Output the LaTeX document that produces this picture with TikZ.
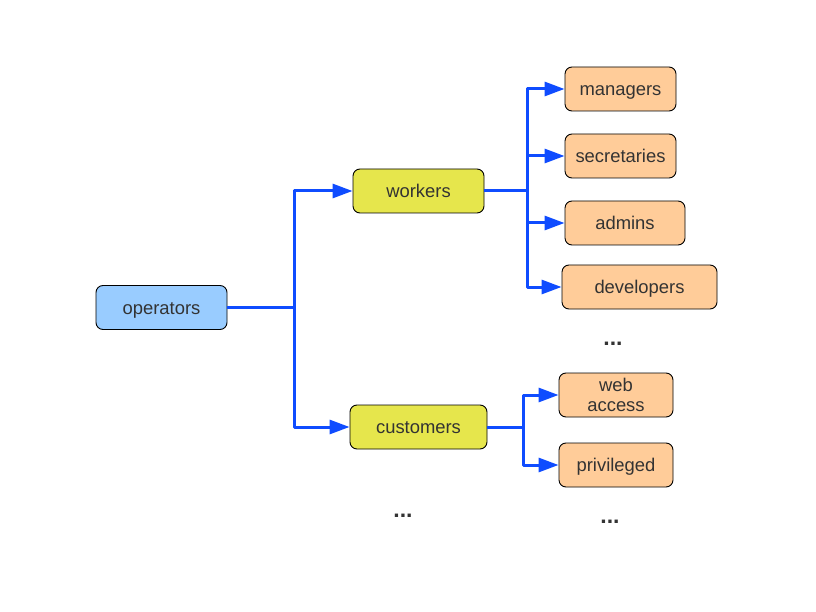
\documentclass[tikz,border=0pt]{standalone}
\usepackage{fontspec}
\setmainfont{Liberation Sans}
\usetikzlibrary{arrows.meta}
\definecolor{lineblue}{HTML}{0F4CFF}
\definecolor{opblue}{HTML}{99CCFF}
\definecolor{grpyellow}{HTML}{E6E64C}
\definecolor{leaforange}{HTML}{FFCC99}
\definecolor{txtgray}{HTML}{333333}
\begin{document}
\begin{tikzpicture}[x=1pt,y=-1pt,
  basebox/.style={draw=black,line width=0.9pt,rounded corners=7pt,minimum height=44pt,
    inner sep=0pt,text=txtgray,font=\fontsize{18.4}{20.5}\selectfont},
  box/.style={basebox,text height=15pt,text depth=2pt},
  opbox/.style={box,fill=opblue},
  grpbox/.style={box,fill=grpyellow},
  leafbox/.style={box,fill=leaforange},
  leafbox2/.style={basebox,fill=leaforange,align=center},
  conn/.style={draw=lineblue,line width=3pt,line join=round},
  arr/.style={conn,-{Triangle[length=20pt,width=14pt]}},
  dotstxt/.style={text=txtgray,font=\fontsize{23}{24}\selectfont\bfseries,inner sep=0pt}]
\useasboundingbox (0,0) rectangle (816,612);
\node[opbox,minimum width=131pt] (operators) at (161.5,307.5) {operators};
\node[grpbox,minimum width=131pt] (workers) at (418.5,191) {workers};
\node[grpbox,minimum width=137pt] (customers) at (418.5,427) {customers};
\node[leafbox,minimum width=111pt] (managers) at (620.5,89) {managers};
\node[leafbox,minimum width=111pt] (secretaries) at (620.5,156) {secretaries};
\node[leafbox,minimum width=120pt] (admins) at (625,223) {admins};
\node[leafbox,minimum width=155pt] (developers) at (639.5,287) {developers};
\node[leafbox2,minimum width=114pt] (webaccess) at (616,395) {\raisebox{-1pt}{web}\\\raisebox{-1pt}{access}};
\node[leafbox,minimum width=114pt] (privileged) at (616,465) {privileged};
\node[dotstxt] (dots1) at (613,344) {...};
\node[dotstxt] (dots2) at (403,516) {...};
\node[dotstxt] (dots3) at (610,522) {...};
\coordinate (j1) at (294,307.5);
\coordinate (j2) at (527,191);
\coordinate (j3) at (523,427);
\draw[conn] (operators.east) -- (j1);
\draw[arr] (j1) |- (workers.west);
\draw[arr] (j1) |- (customers.west);
\draw[conn] (workers.east) -- (j2);
\draw[arr] (j2) |- (managers.west);
\draw[arr] (j2) |- (secretaries.west);
\draw[arr] (j2) |- (admins.west);
\draw[arr] (j2) |- (developers.west);
\draw[conn] (customers.east) -- (j3);
\draw[arr] (j3) |- (webaccess.west);
\draw[arr] (j3) |- (privileged.west);
\end{tikzpicture}
\end{document}
